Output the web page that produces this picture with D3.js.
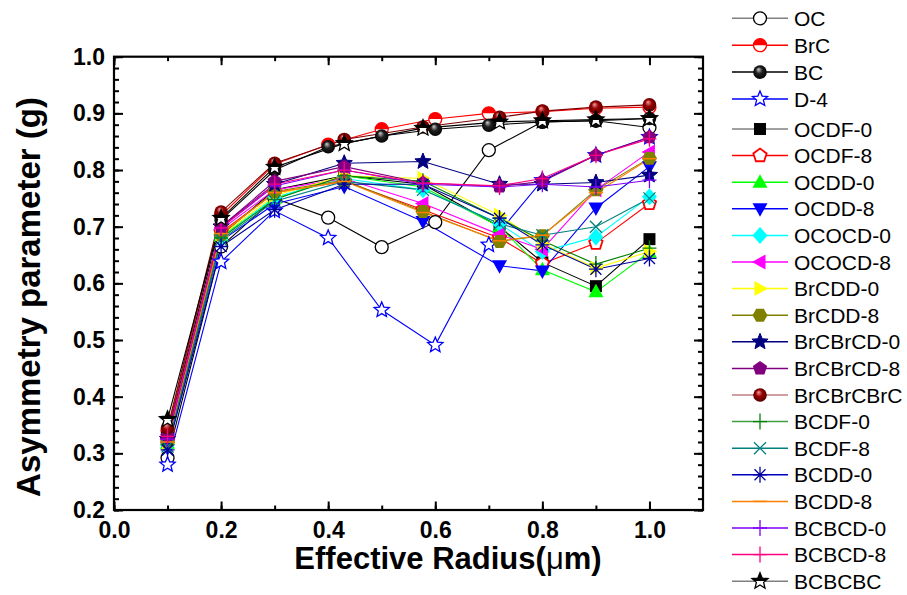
<!DOCTYPE html>
<html><head><meta charset="utf-8">
<script src="https://cdn.jsdelivr.net/npm/d3@7"></script>
<style>body{margin:0;background:#fff}</style>
</head><body>
<script>
// ---------------- DATA ----------------
const radiusBase = [0.1, 0.2, 0.3, 0.4, 0.5, 0.6, 0.7, 0.8, 0.9, 1.0];
const radiusMix  = [0.1, 0.2, 0.3, 0.43, 0.577, 0.72, 0.8, 0.9, 1.0];

const OC   = [0.292, 0.665, 0.750, 0.716, 0.664, 0.708, 0.835, 0.885, 0.887, 0.875];
const BrC  = [0.340, 0.720, 0.810, 0.845, 0.872, 0.890, 0.900, 0.903, 0.909, 0.911];
const BC   = [0.333, 0.712, 0.800, 0.841, 0.860, 0.872, 0.879, 0.885, 0.887, 0.891];
const D4   = [0.280, 0.638, 0.728, 0.680, 0.553, 0.491, 0.668, 0.782, 0.826, 0.858];

const OCDF0     = [0.320, 0.685, 0.765, 0.790, 0.775, 0.700, 0.637, 0.595, 0.678];
const OCDF8     = [0.322, 0.690, 0.760, 0.780, 0.730, 0.680, 0.635, 0.671, 0.741];
const OCDD0     = [0.318, 0.683, 0.750, 0.790, 0.770, 0.700, 0.624, 0.585, 0.655];
const OCDD8     = [0.310, 0.675, 0.740, 0.771, 0.709, 0.631, 0.622, 0.733, 0.806];
const OCOCD0    = [0.315, 0.680, 0.752, 0.785, 0.765, 0.705, 0.656, 0.682, 0.753];
const OCOCD8    = [0.325, 0.695, 0.765, 0.785, 0.741, 0.686, 0.660, 0.765, 0.832];
const BrCDD0    = [0.318, 0.684, 0.755, 0.790, 0.785, 0.720, 0.670, 0.627, 0.656];
const BrCDD8    = [0.320, 0.686, 0.762, 0.782, 0.727, 0.674, 0.684, 0.765, 0.821];
const BrCBrCD0  = [0.325, 0.700, 0.775, 0.812, 0.815, 0.775, 0.775, 0.778, 0.791];
const BrCBrCD8  = [0.330, 0.700, 0.780, 0.806, 0.777, 0.771, 0.780, 0.826, 0.858];
const BrCBrCBrC = [0.345, 0.726, 0.812, 0.854, 0.876, 0.893, 0.904, 0.911, 0.915];
const BCDF0     = [0.315, 0.680, 0.748, 0.790, 0.780, 0.715, 0.675, 0.634, 0.662];
const BCDF8     = [0.312, 0.677, 0.745, 0.780, 0.765, 0.705, 0.685, 0.700, 0.750];
const BCDD0     = [0.306, 0.665, 0.730, 0.775, 0.775, 0.715, 0.668, 0.625, 0.644];
const BCDD8     = [0.320, 0.688, 0.760, 0.780, 0.725, 0.675, 0.685, 0.760, 0.820];
const BCBCD0    = [0.325, 0.698, 0.772, 0.800, 0.775, 0.770, 0.775, 0.770, 0.782];
const BCBCD8    = [0.330, 0.698, 0.775, 0.800, 0.777, 0.772, 0.785, 0.826, 0.855];
const BCBCBC    = [0.360, 0.715, 0.805, 0.847, 0.874, 0.885, 0.887, 0.889, 0.891];

const xTickValues = [0.0, 0.2, 0.4, 0.6, 0.8, 1.0];
const yTickValues = [0.2, 0.3, 0.4, 0.5, 0.6, 0.7, 0.8, 0.9, 1.0];
const xLabel = "Effective Radius(";
const yLabel = "Asymmetry parameter (g)";

// ---------------- STYLE ----------------
const series = [
  {name:"OC",        x:radiusBase, y:OC,        color:"#000000", leg:"#808080", marker:"circleOpen"},
  {name:"BrC",       x:radiusBase, y:BrC,       color:"#ff0000", leg:"#ff0000", marker:"halfCircle"},
  {name:"BC",        x:radiusBase, y:BC,        color:"#000000", leg:"#000000", marker:"ballBlack"},
  {name:"D-4",       x:radiusBase, y:D4,        color:"#0000ff", leg:"#0000ff", marker:"starOpen"},
  {name:"OCDF-0",    x:radiusMix,  y:OCDF0,     color:"#000000", leg:"#808080", marker:"square"},
  {name:"OCDF-8",    x:radiusMix,  y:OCDF8,     color:"#ff0000", leg:"#ff0000", marker:"pentagonOpen"},
  {name:"OCDD-0",    x:radiusMix,  y:OCDD0,     color:"#00ff00", leg:"#00ff00", marker:"triUp"},
  {name:"OCDD-8",    x:radiusMix,  y:OCDD8,     color:"#0000ff", leg:"#0000ff", marker:"triDown"},
  {name:"OCOCD-0",   x:radiusMix,  y:OCOCD0,    color:"#00ffff", leg:"#00ffff", marker:"diamond"},
  {name:"OCOCD-8",   x:radiusMix,  y:OCOCD8,    color:"#ff00ff", leg:"#ff00ff", marker:"triLeft"},
  {name:"BrCDD-0",   x:radiusMix,  y:BrCDD0,    color:"#ffff00", leg:"#ffff00", marker:"triRight"},
  {name:"BrCDD-8",   x:radiusMix,  y:BrCDD8,    color:"#808000", leg:"#808000", marker:"hexagon"},
  {name:"BrCBrCD-0", x:radiusMix,  y:BrCBrCD0,  color:"#000080", leg:"#000080", marker:"star"},
  {name:"BrCBrCD-8", x:radiusMix,  y:BrCBrCD8,  color:"#800080", leg:"#800080", marker:"pentagon"},
  {name:"BrCBrCBrC", x:radiusMix,  y:BrCBrCBrC, color:"#800000", leg:"#c08080", marker:"ballRed"},
  {name:"BCDF-0",    x:radiusMix,  y:BCDF0,     color:"#008000", leg:"#40a040", marker:"plus"},
  {name:"BCDF-8",    x:radiusMix,  y:BCDF8,     color:"#008080", leg:"#008080", marker:"cross"},
  {name:"BCDD-0",    x:radiusMix,  y:BCDD0,     color:"#0000a0", leg:"#0000c0", marker:"asterisk"},
  {name:"BCDD-8",    x:radiusMix,  y:BCDD8,     color:"#ff8000", leg:"#ff8000", marker:"dash"},
  {name:"BCBCD-0",   x:radiusMix,  y:BCBCD0,    color:"#8000ff", leg:"#8000ff", marker:"plus"},
  {name:"BCBCD-8",   x:radiusMix,  y:BCBCD8,    color:"#ff0080", leg:"#ff0080", marker:"plus"},
  {name:"BCBCBC",    x:radiusMix,  y:BCBCBC,    color:"#000000", leg:"#808080", marker:"starHalf"}
];

const W = 907, H = 595;
const svg = d3.select("body").append("svg").attr("width", W).attr("height", H)
  .style("font-family", "'Liberation Sans', Arial, sans-serif");
svg.append("rect").attr("width", W).attr("height", H).attr("fill", "#fff");

const defs = svg.append("defs");
function ballGrad(id, c0, c1, c2){
  const g = defs.append("radialGradient").attr("id", id)
    .attr("cx", "50%").attr("cy", "50%").attr("r", "55%").attr("fx", "38%").attr("fy", "28%");
  g.append("stop").attr("offset", "0%").attr("stop-color", c0);
  g.append("stop").attr("offset", "45%").attr("stop-color", c1);
  g.append("stop").attr("offset", "100%").attr("stop-color", c2);
}
ballGrad("gBlack", "#d0d0d0", "#202020", "#000");
ballGrad("gRed", "#f0a0a0", "#9a0000", "#4a0000");
const hg = defs.append("linearGradient").attr("id", "gHalf").attr("x1", 0).attr("y1", 0).attr("x2", 0).attr("y2", 1);
hg.append("stop").attr("offset", "55%").attr("stop-color", "#000");
hg.append("stop").attr("offset", "55%").attr("stop-color", "#fff");

const L = 114, R = 703, T = 56.7, B = 510;
const x = d3.scaleLinear().domain([0, 1.1]).range([L, R]);
const y = d3.scaleLinear().domain([0.2, 1.0]).range([B, T]);

// ---------- marker shapes ----------
function polyPath(pts){ return "M" + pts.map(p => p[0].toFixed(2) + "," + p[1].toFixed(2)).join("L") + "Z"; }
function regular(n, r, rot){
  return d3.range(n).map(i => { const a = rot + i * 2 * Math.PI / n; return [r * Math.cos(a), r * Math.sin(a)]; });
}
function starPts(ro, ri){
  return d3.range(10).map(i => { const a = -Math.PI/2 + i * Math.PI / 5; const r = i % 2 ? ri : ro; return [r*Math.cos(a), r*Math.sin(a)]; });
}
function drawMarker(g, type, color){
  const sw = 1.3;
  switch(type){
    case "circleOpen":
      g.append("circle").attr("r", 6.5).attr("fill", "#fff").attr("stroke", color).attr("stroke-width", sw); break;
    case "halfCircle":
      g.append("circle").attr("r", 6.5).attr("fill", "#fff").attr("stroke", color).attr("stroke-width", sw);
      g.append("path").attr("d", "M-6.5,0A6.5,6.5 0 0 1 6.5,0Z").attr("fill", color); break;
    case "ballBlack":
      g.append("circle").attr("r", 6.8).attr("fill", "url(#gBlack)"); break;
    case "ballRed":
      g.append("circle").attr("r", 6.8).attr("fill", "url(#gRed)"); break;
    case "starOpen":
      g.append("path").attr("d", polyPath(starPts(8, 3.6))).attr("fill", "#fff").attr("stroke", color).attr("stroke-width", sw); break;
    case "star":
      g.append("path").attr("d", polyPath(starPts(8.5, 3.8))).attr("fill", color).attr("stroke", color).attr("stroke-width", 1); break;
    case "starHalf":
      g.append("path").attr("d", polyPath(starPts(8.5, 3.8))).attr("fill", "url(#gHalf)").attr("stroke", color).attr("stroke-width", sw); break;
    case "square":
      g.append("rect").attr("x", -6).attr("y", -6).attr("width", 12).attr("height", 12).attr("fill", color); break;
    case "pentagonOpen":
      g.append("path").attr("d", polyPath(regular(5, 7, -Math.PI/2))).attr("fill", "#fff").attr("stroke", color).attr("stroke-width", 1.8); break;
    case "pentagon":
      g.append("path").attr("d", polyPath(regular(5, 7.5, -Math.PI/2))).attr("fill", color); break;
    case "triUp":
      g.append("path").attr("d", polyPath([[0,-8],[7.5,5.5],[-7.5,5.5]])).attr("fill", color); break;
    case "triDown":
      g.append("path").attr("d", polyPath([[0,8],[7.5,-5.5],[-7.5,-5.5]])).attr("fill", color); break;
    case "triLeft":
      g.append("path").attr("d", polyPath([[-8,0],[5.5,-7.5],[5.5,7.5]])).attr("fill", color); break;
    case "triRight":
      g.append("path").attr("d", polyPath([[8,0],[-5.5,-7.5],[-5.5,7.5]])).attr("fill", color); break;
    case "diamond":
      g.append("path").attr("d", polyPath([[0,-8.5],[7.5,0],[0,8.5],[-7.5,0]])).attr("fill", color); break;
    case "hexagon":
      g.append("path").attr("d", polyPath(regular(6, 7.5, 0))).attr("fill", color); break;
    case "plus":
      g.append("path").attr("d", "M-7,0H7M0,-8V8").attr("stroke", color).attr("stroke-width", sw).attr("fill", "none"); break;
    case "cross":
      g.append("path").attr("d", "M-6,-6L6,6M-6,6L6,-6").attr("stroke", color).attr("stroke-width", sw).attr("fill", "none"); break;
    case "asterisk":
      g.append("path").attr("d", "M-7,0H7M0,-8V8M-5.5,-5.5L5.5,5.5M-5.5,5.5L5.5,-5.5").attr("stroke", color).attr("stroke-width", sw).attr("fill", "none"); break;
    case "dash":
      g.append("path").attr("d", "M-7,0H7").attr("stroke", color).attr("stroke-width", 1.5).attr("fill", "none"); break;
  }
}

// ---------- axes frame & ticks ----------
const axesG = svg.append("g");
function tickAxis(axisFn, vals, size, transform, labels){
  const a = axisFn.tickValues(vals).tickSizeInner(size).tickSizeOuter(0);
  if (labels) a.tickFormat(d3.format(".1f")); else a.tickFormat("");
  const g = axesG.append("g").attr("transform", transform).call(a);
  g.select(".domain").remove();
  g.selectAll(".tick line").attr("stroke", "#000").attr("stroke-width", 2);
  return g;
}
const xMinor = d3.range(0, 11).map(i => i / 10);
const yMinor = d3.range(0, 41).map(i => +(0.2 + i * 0.02).toFixed(2));
tickAxis(d3.axisBottom(x), xMinor, -4.5, `translate(0,${B})`, false);
const xb = tickAxis(d3.axisBottom(x).tickPadding(12), xTickValues, -8.5, `translate(0,${B})`, true);
tickAxis(d3.axisTop(x), xMinor, -4.5, `translate(0,${T})`, false);
tickAxis(d3.axisTop(x), xTickValues, -8.5, `translate(0,${T})`, false);
tickAxis(d3.axisLeft(y), yMinor, -5, `translate(${L},0)`, false);
const yl = tickAxis(d3.axisLeft(y).tickPadding(9), yTickValues, -9, `translate(${L},0)`, true);
tickAxis(d3.axisRight(y), yMinor, -5, `translate(${R},0)`, false);
tickAxis(d3.axisRight(y), yTickValues, -9, `translate(${R},0)`, false);

[xb, yl].forEach(g => g.selectAll(".tick text")
  .attr("fill", "#000").style("font-size", "23px").style("font-weight", "bold")
  .style("font-family", "'Liberation Sans', Arial, sans-serif"));

axesG.append("rect").attr("x", L).attr("y", T).attr("width", R - L).attr("height", B - T)
  .attr("fill", "none").attr("stroke", "#000").attr("stroke-width", 2.2);

// ---------- series ----------
const plotG = svg.append("g");
const lineGen = d3.line().x(d => x(d[0])).y(d => y(d[1]));
series.forEach(s => {
  const pts = s.x.map((v, i) => [v, s.y[i]]);
  plotG.append("path").attr("d", lineGen(pts)).attr("fill", "none")
    .attr("stroke", s.color).attr("stroke-width", 1.1);
});
series.forEach(s => {
  const pts = s.x.map((v, i) => [v, s.y[i]]);
  pts.forEach(p => {
    const g = plotG.append("g").attr("transform", `translate(${x(p[0])},${y(p[1])})`);
    drawMarker(g, s.marker, s.color);
  });
});

// ---------- titles ----------
const xt = svg.append("text").attr("x", 448).attr("y", 569).attr("text-anchor", "middle")
  .style("font-size", "31px").style("font-weight", "bold").attr("fill", "#000");
xt.append("tspan").text(xLabel);
xt.append("tspan").text("\u03bc").style("font-weight", "normal");
xt.append("tspan").text("m)");

svg.append("text").attr("transform", "translate(40,297) rotate(-90)").attr("text-anchor", "middle")
  .style("font-size", "33px").style("font-weight", "bold").attr("fill", "#000").text(yLabel);

// ---------- legend ----------
const leg = svg.append("g");
series.forEach((s, i) => {
  const yy = i < 4 ? 18.3 + i * 26.9 : 129 + (i - 4) * 26.6;
  const g = leg.append("g").attr("transform", `translate(0,${yy})`);
  g.append("line").attr("x1", 732).attr("x2", 788).attr("y1", 0).attr("y2", 0)
    .attr("stroke", s.leg).attr("stroke-width", 1.5);
  const mg = g.append("g").attr("transform", "translate(760,0)");
  drawMarker(mg, s.marker, s.color);
  g.append("text").attr("x", 794).attr("y", 0).attr("dy", "0.36em")
    .style("font-size", "21px").attr("fill", "#000").text(s.name);
});
</script>
</body></html>
